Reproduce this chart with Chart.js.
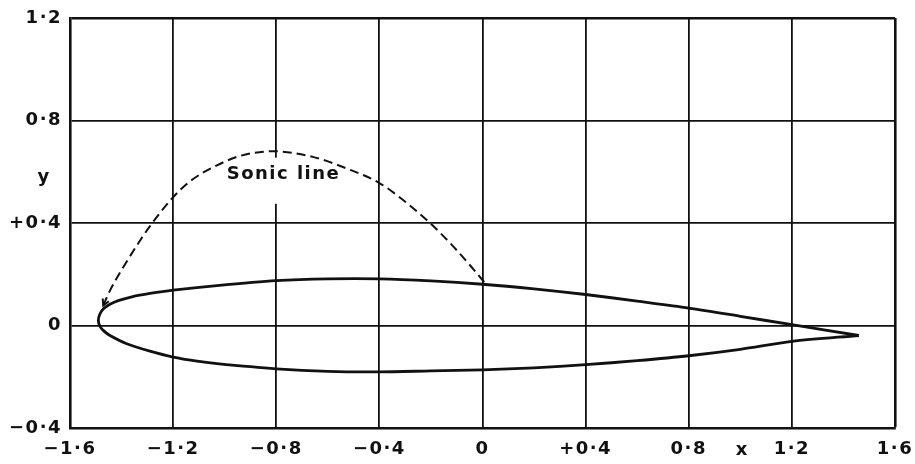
<!DOCTYPE html>
<html>
<head>
<meta charset="utf-8">
<script src="https://cdn.jsdelivr.net/npm/chart.js@4.4.1/dist/chart.umd.min.js"></script>
<style>
  html, body { margin: 0; padding: 0; background: #fff; }
  #wrap { width: 915px; height: 464px; position: relative; }
</style>
</head>
<body>
<div id="wrap"><canvas id="c"></canvas></div>
<script>
// ---- data ----
const upperX = [-1.49, -1.484, -1.47, -1.445, -1.41, -1.36, -1.29, -1.2, -1.03, -0.8, -0.6, -0.4, -0.2, 0, 0.2, 0.4, 0.6, 0.8, 1.0, 1.2, 1.46];
const upperY = [0.02, 0.045, 0.065, 0.083, 0.098, 0.112, 0.125, 0.138, 0.156, 0.175, 0.182, 0.182, 0.174, 0.161, 0.143, 0.121, 0.095, 0.068, 0.036, 0.003, -0.039];
const lowerX = [-1.49, -1.484, -1.47, -1.445, -1.38, -1.29, -1.2, -1.1, -1.03, -0.8, -0.6, -0.4, -0.2, 0, 0.2, 0.4, 0.6, 0.8, 1.0, 1.2, 1.46];
const lowerY = [0.02, -0.002, -0.02, -0.039, -0.071, -0.100, -0.123, -0.140, -0.149, -0.169, -0.179, -0.181, -0.177, -0.173, -0.165, -0.153, -0.137, -0.118, -0.093, -0.062, -0.039];
const sonicX = [-1.471, -1.445, -1.393, -1.328, -1.289, -1.205, -1.134, -1.03, -0.94, -0.81, -0.655, -0.525, -0.4, -0.306, -0.208, -0.111, -0.034, 0.012];
const sonicY = [0.078, 0.136, 0.228, 0.332, 0.389, 0.495, 0.563, 0.625, 0.662, 0.680, 0.657, 0.612, 0.556, 0.488, 0.404, 0.306, 0.218, 0.163];

const xTicks = [-1.6, -1.2, -0.8, -0.4, 0, 0.4, 0.8, 1.2, 1.6];
const xTickLabels = ['\u22121\u00B76', '\u22121\u00B72', '\u22120\u00B78', '\u22120\u00B74', '0', '+0\u00B74', '0\u00B78', '1\u00B72', '1\u00B76'];
const yTicks = [-0.4, 0, 0.4, 0.8, 1.2];
const yTickLabels = ['\u22120\u00B74', '0', '+0\u00B74', '0\u00B78', '1\u00B72'];

const sonicLabel = 'Sonic line';
const sonicLabelPos = [-0.772, 0.59];
const xAxisName = 'x';
const xAxisNamePos = 1.0;
const yAxisName = 'y';
const yAxisNamePos = 0.58;

// ---- build datasets ----
const airfoil = [];
for (let i = lowerX.length - 1; i >= 0; i--) airfoil.push({x: lowerX[i], y: lowerY[i]});
for (let i = 1; i < upperX.length; i++) airfoil.push({x: upperX[i], y: upperY[i]});
const sonic = sonicX.map((x, i) => ({x, y: sonicY[i]}));

const INK = '#111';
const FAMILY = "'DejaVu Sans', sans-serif";
const FONT = "bold 18px " + FAMILY;

const spacing = {
  id: 'spacing',
  beforeDraw(chart) { try { chart.ctx.letterSpacing = '1.5px'; } catch (e) {} }
};

const annot = {
  id: 'annot',
  beforeDatasetsDraw(chart) {
    const {ctx, scales: {x, y}} = chart;
    ctx.save();
    ctx.fillStyle = '#fff';
    const px = x.getPixelForValue(-0.8);
    const y1 = y.getPixelForValue(0.655), y2 = y.getPixelForValue(0.475);
    ctx.fillRect(px - 2, y1, 4, y2 - y1);
    ctx.restore();
  },
  afterDraw(chart) {
    const {ctx, scales: {x, y}, chartArea} = chart;
    ctx.save();
    ctx.fillStyle = INK;
    ctx.font = FONT;
    ctx.textAlign = 'center';
    ctx.textBaseline = 'middle';
    try { ctx.letterSpacing = '1.5px'; } catch (e) {}
    ctx.fillText(sonicLabel, x.getPixelForValue(sonicLabelPos[0]), y.getPixelForValue(sonicLabelPos[1]));
    ctx.fillText(xAxisName, x.getPixelForValue(xAxisNamePos) + 2, chartArea.bottom + 22);
    ctx.fillText(yAxisName, chartArea.left - 26, y.getPixelForValue(yAxisNamePos));
    // arrowhead at start of sonic line
    const p0 = sonic[0], p1 = sonic[1];
    const ax = x.getPixelForValue(p0.x), ay = y.getPixelForValue(p0.y);
    const bx = x.getPixelForValue(p1.x), by = y.getPixelForValue(p1.y);
    const ang = Math.atan2(by - ay, bx - ax);
    ctx.strokeStyle = INK;
    ctx.lineWidth = 2;
    ctx.beginPath();
    ctx.moveTo(ax + 7 * Math.cos(ang + 0.5), ay + 7 * Math.sin(ang + 0.5));
    ctx.lineTo(ax, ay);
    ctx.lineTo(ax + 7 * Math.cos(ang - 0.5), ay + 7 * Math.sin(ang - 0.5));
    ctx.stroke();
    ctx.restore();
  }
};

function axis(ticks, labels, min, max, fit, pad) {
  return {
    type: 'linear', min, max,
    afterBuildTicks: s => { s.ticks = ticks.map(v => ({value: v})); },
    afterFit: s => { fit(s); s.paddingLeft = 0; s.paddingRight = 0; s.paddingTop = 0; s.paddingBottom = 0; },
    ticks: {
      callback: (v, i) => labels[i],
      color: INK,
      font: {family: FAMILY, size: 18, weight: 'bold'},
      padding: pad,
      autoSkip: false,
      maxRotation: 0
    },
    grid: {
      color: INK,
      lineWidth: c => (c.index === ticks.length - 1 ? 2.6 : 1.8),
      drawTicks: false
    },
    border: {color: INK, width: 2.6}
  };
}

new Chart(document.getElementById('c'), {
  type: 'scatter',
  data: {
    datasets: [
      {data: airfoil, showLine: true, borderColor: INK, borderWidth: 2.8, pointRadius: 0, tension: 0.3, fill: false},
      {data: sonic, showLine: true, borderColor: INK, borderWidth: 2, borderDash: [9, 5], pointRadius: 0, cubicInterpolationMode: 'monotone', fill: false}
    ]
  },
  options: {
    responsive: true,
    maintainAspectRatio: false,
    animation: false,
    layout: {padding: {top: 18, right: 20, left: 0, bottom: 0}},
    plugins: {legend: {display: false}, tooltip: {enabled: false}},
    scales: {
      x: axis(xTicks, xTickLabels, -1.6, 1.6, s => { s.height = 36; }, 11),
      y: axis(yTicks, yTickLabels, -0.4, 1.2, s => { s.width = 70; }, 8)
    }
  },
  plugins: [spacing, annot]
});
</script>
</body>
</html>
